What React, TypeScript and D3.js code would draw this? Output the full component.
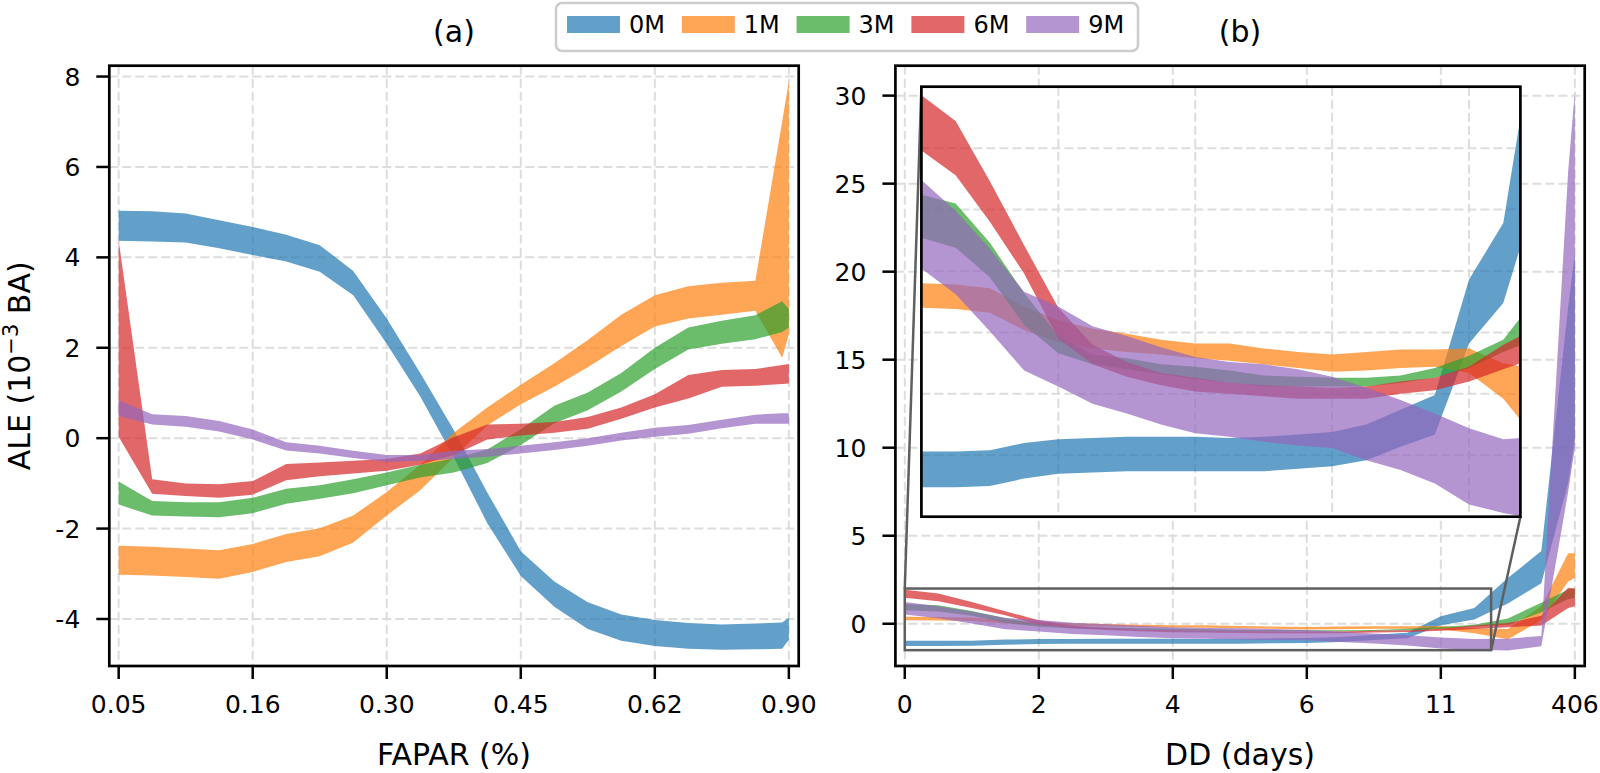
import * as d3 from "d3";

// x positions are bin positions on a 0..1 quantile axis (ticks every 0.2)
const xPos = [0, 0.05, 0.1, 0.15, 0.2, 0.25, 0.3, 0.35, 0.4, 0.45, 0.5, 0.55, 0.6, 0.65, 0.7, 0.75, 0.8, 0.85, 0.9, 0.95, 0.99, 1];
const xTickPos = [0, 0.2, 0.4, 0.6, 0.8, 1];
const faparTickLabels = ["0.05", "0.16", "0.30", "0.45", "0.62", "0.90"];
const ddTickLabels = ["0", "2", "4", "6", "11", "406"];
const yTicksA = [-4, -2, 0, 2, 4, 6, 8];
const yTicksB = [0, 5, 10, 15, 20, 25, 30];
const insetGridX = [0.2, 0.4, 0.6, 0.8];
const insetGridY = [-1, -0.5, 0, 0.5, 1, 1.5];

const seriesNames = ["0M", "1M", "3M", "6M", "9M"];
const colors = ["#1f77b4", "#ff7f0e", "#2ca02c", "#d62728", "#9467bd"];

// (a) FAPAR
const fapar0mHigh = [5.03, 5.02, 4.97, 4.82, 4.67, 4.5, 4.27, 3.7, 2.65, 1.44, 0.18, -1.2, -2.5, -3.17, -3.63, -3.9, -4.02, -4.09, -4.12, -4.1, -4.08, -3.97];
const fapar0mLow = [4.37, 4.35, 4.33, 4.2, 4.05, 3.91, 3.68, 3.16, 2.09, 0.92, -0.42, -1.88, -3.05, -3.73, -4.22, -4.48, -4.6, -4.66, -4.68, -4.67, -4.66, -4.46];
const fapar1mHigh = [-2.38, -2.4, -2.44, -2.48, -2.34, -2.12, -1.99, -1.71, -1.19, -0.59, 0.12, 0.68, 1.18, 1.66, 2.17, 2.73, 3.16, 3.36, 3.44, 3.48, 7.0, 7.9];
const fapar1mLow = [-3.02, -3.04, -3.07, -3.11, -2.96, -2.74, -2.61, -2.31, -1.71, -1.15, -0.42, 0.28, 0.75, 1.14, 1.57, 2.04, 2.47, 2.65, 2.73, 2.82, 1.78, 2.3];
const fapar3mHigh = [-0.96, -1.39, -1.42, -1.42, -1.32, -1.12, -1.04, -0.91, -0.76, -0.59, -0.45, -0.25, 0.2, 0.72, 1.01, 1.44, 2.0, 2.45, 2.6, 2.72, 3.03, 2.86];
const fapar3mLow = [-1.47, -1.71, -1.73, -1.75, -1.66, -1.45, -1.34, -1.22, -1.04, -0.87, -0.76, -0.55, -0.15, 0.33, 0.62, 1.03, 1.53, 1.96, 2.09, 2.19, 2.35, 2.45];
const fapar6mHigh = [4.37, -0.91, -1.0, -1.02, -0.95, -0.57, -0.54, -0.5, -0.46, -0.34, 0.02, 0.3, 0.32, 0.36, 0.47, 0.68, 0.97, 1.4, 1.51, 1.53, 1.62, 1.64];
const fapar6mLow = [0.03, -1.23, -1.28, -1.32, -1.25, -0.93, -0.84, -0.78, -0.72, -0.59, -0.37, -0.03, 0.06, 0.12, 0.21, 0.43, 0.68, 0.88, 1.14, 1.16, 1.2, 1.21];
const fapar9mHigh = [0.84, 0.53, 0.49, 0.38, 0.19, -0.09, -0.17, -0.28, -0.37, -0.37, -0.28, -0.24, -0.17, -0.09, 0.0, 0.12, 0.23, 0.29, 0.41, 0.52, 0.55, 0.55];
const fapar9mLow = [0.49, 0.3, 0.25, 0.15, -0.03, -0.27, -0.34, -0.44, -0.52, -0.5, -0.46, -0.41, -0.34, -0.26, -0.17, -0.05, 0.03, 0.1, 0.22, 0.32, 0.32, 0.32];

// (b) DD
const dd0mHigh = [-0.97, -0.97, -0.96, -0.9, -0.87, -0.86, -0.85, -0.85, -0.85, -0.86, -0.85, -0.83, -0.81, -0.75, -0.63, -0.51, 0.43, 0.89, 2.6, 4.13, 18.0, 21.0];
const dd0mLow = [-1.26, -1.26, -1.25, -1.19, -1.15, -1.14, -1.13, -1.13, -1.13, -1.13, -1.13, -1.11, -1.09, -1.04, -0.93, -0.83, -0.09, 0.24, 1.15, 2.3, 8.0, 10.5];
const dd1mHigh = [0.4, 0.39, 0.36, 0.21, 0.1, 0.03, -0.01, -0.06, -0.09, -0.09, -0.13, -0.16, -0.18, -0.16, -0.14, -0.14, -0.13, -0.25, -0.3, 1.0, 4.0, 4.0];
const dd1mLow = [0.2, 0.19, 0.16, 0.02, -0.08, -0.13, -0.16, -0.18, -0.21, -0.23, -0.26, -0.29, -0.32, -0.31, -0.29, -0.28, -0.33, -0.54, -0.88, 0.2, 2.4, 2.6];
const dd3mHigh = [1.12, 1.05, 0.73, 0.32, -0.03, -0.18, -0.21, -0.26, -0.28, -0.31, -0.35, -0.36, -0.37, -0.37, -0.35, -0.29, -0.19, -0.06, 0.3, 1.2, 1.95, 2.0];
const dd3mLow = [0.77, 0.69, 0.45, 0.06, -0.17, -0.26, -0.3, -0.34, -0.38, -0.41, -0.44, -0.44, -0.44, -0.44, -0.41, -0.37, -0.29, -0.16, -0.05, 0.65, 1.4, 1.45];
const dd6mHigh = [1.93, 1.72, 1.23, 0.71, 0.2, -0.1, -0.24, -0.33, -0.37, -0.41, -0.43, -0.44, -0.45, -0.44, -0.4, -0.37, -0.28, -0.1, 0.04, 0.45, 2.05, 2.0];
const dd6mLow = [1.48, 1.28, 0.9, 0.48, -0.05, -0.26, -0.36, -0.43, -0.48, -0.5, -0.52, -0.54, -0.54, -0.54, -0.5, -0.47, -0.4, -0.3, -0.2, -0.1, 0.9, 1.0];
const dd9mHigh = [1.24, 0.99, 0.68, 0.33, 0.21, 0.05, -0.03, -0.12, -0.2, -0.24, -0.26, -0.3, -0.36, -0.45, -0.55, -0.66, -0.78, -0.87, -0.85, -0.69, 25.7, 30.2];
const dd9mLow = [0.52, 0.31, 0.01, -0.31, -0.44, -0.58, -0.66, -0.75, -0.82, -0.85, -0.89, -0.92, -0.94, -1.04, -1.12, -1.23, -1.4, -1.47, -1.52, -1.28, 7.5, 10.0];

const faparBands = [
  [fapar0mLow, fapar0mHigh],
  [fapar1mLow, fapar1mHigh],
  [fapar3mLow, fapar3mHigh],
  [fapar6mLow, fapar6mHigh],
  [fapar9mLow, fapar9mHigh],
];
const ddBands = [
  [dd0mLow, dd0mHigh],
  [dd1mLow, dd1mHigh],
  [dd3mLow, dd3mHigh],
  [dd6mLow, dd6mHigh],
  [dd9mLow, dd9mHigh],
];

const FONT = "'DejaVu Sans', sans-serif";
const GRID = "#dddddd";
const TOP = 65.7;
const BOTTOM = 666;
const A_LEFT = 109.3;
const A_RIGHT = 798.7;
const B_LEFT = 895.4;
const B_RIGHT = 1584.7;
const INSET = { left: 921.4, right: 1520.4, top: 86.7, bottom: 516.7 };
const INSET_X: [number, number] = [0, 0.875];
const INSET_Y: [number, number] = [-1.5, 2];

const xA = d3.scaleLinear().domain([-0.014, 1.0147]).range([A_LEFT, A_RIGHT]);
const xB = d3.scaleLinear().domain([-0.014, 1.0147]).range([B_LEFT, B_RIGHT]);
const yA = d3.scaleLinear().domain([-5.04, 8.24]).range([BOTTOM, TOP]);
const yB = d3.scaleLinear().domain([-2.4, 31.7]).range([BOTTOM, TOP]);
const xIn = d3.scaleLinear().domain(INSET_X).range([INSET.left, INSET.right]);
const yIn = d3.scaleLinear().domain(INSET_Y).range([INSET.bottom, INSET.top]);

type Scale = d3.ScaleLinear<number, number>;

function Bands({ bands, x, y }: { bands: number[][][]; x: Scale; y: Scale }) {
  return (
    <g>
      {bands.map(([low, high], k) => {
        const area = d3
          .area<number>()
          .x((_, i) => x(xPos[i]))
          .y0((_, i) => y(low[i]))
          .y1((_, i) => y(high[i]));
        return <path key={k} d={area(xPos) ?? ""} fill={colors[k]} fillOpacity={0.7} stroke="none" />;
      })}
    </g>
  );
}

function Panel({
  id,
  left,
  right,
  x,
  y,
  yTicks,
  xLabels,
  xTitle,
  title,
  bands,
}: {
  id: string;
  left: number;
  right: number;
  x: Scale;
  y: Scale;
  yTicks: number[];
  xLabels: string[];
  xTitle: string;
  title: string;
  bands: number[][][];
}) {
  const cx = (left + right) / 2;
  return (
    <g>
      <defs>
        <clipPath id={`clip-${id}`}>
          <rect x={left} y={TOP} width={right - left} height={BOTTOM - TOP} />
        </clipPath>
      </defs>
      {xTickPos.map((t) => (
        <line key={`gx${t}`} x1={x(t)} x2={x(t)} y1={TOP} y2={BOTTOM} stroke={GRID} strokeWidth={2} strokeDasharray="9,4" />
      ))}
      {yTicks.map((t) => (
        <line key={`gy${t}`} x1={left} x2={right} y1={y(t)} y2={y(t)} stroke={GRID} strokeWidth={2} strokeDasharray="9,4" />
      ))}
      <g clipPath={`url(#clip-${id})`}>
        <Bands bands={bands} x={x} y={y} />
      </g>
      <rect x={left} y={TOP} width={right - left} height={BOTTOM - TOP} fill="none" stroke="#000" strokeWidth={2.7} />
      {xTickPos.map((t, i) => (
        <g key={`tx${t}`}>
          <line x1={x(t)} x2={x(t)} y1={BOTTOM} y2={BOTTOM + 13} stroke="#000" strokeWidth={2.5} />
          <text x={x(t)} y={713} textAnchor="middle" fontSize={25} fontFamily={FONT}>
            {xLabels[i]}
          </text>
        </g>
      ))}
      {yTicks.map((t) => (
        <g key={`ty${t}`}>
          <line x1={left - 13} x2={left} y1={y(t)} y2={y(t)} stroke="#000" strokeWidth={2.5} />
          <text x={left - 29} y={y(t)} dy="0.36em" textAnchor="end" fontSize={25} fontFamily={FONT}>
            {t}
          </text>
        </g>
      ))}
      <text x={cx} y={765} textAnchor="middle" fontSize={30} fontFamily={FONT}>
        {xTitle}
      </text>
      <text x={cx} y={42} textAnchor="middle" fontSize={30} fontFamily={FONT}>
        {title}
      </text>
    </g>
  );
}

function Inset() {
  const { left, right, top, bottom } = INSET;
  const rx0 = xB(INSET_X[0]);
  const rx1 = xB(INSET_X[1]);
  const ry0 = yB(INSET_Y[1]);
  const ry1 = yB(INSET_Y[0]);
  return (
    <g>
      <defs>
        <clipPath id="clip-inset">
          <rect x={left} y={top} width={right - left} height={bottom - top} />
        </clipPath>
      </defs>
      {/* zoom indicator on the main axes */}
      <rect x={rx0} y={ry0} width={rx1 - rx0} height={ry1 - ry0} fill="none" stroke="#5f5f5f" strokeWidth={2.5} />
      <line x1={rx0} y1={ry0} x2={left} y2={top} stroke="#5f5f5f" strokeWidth={2.5} />
      <line x1={rx1} y1={ry1} x2={right} y2={bottom} stroke="#5f5f5f" strokeWidth={2.5} />
      <rect x={left} y={top} width={right - left} height={bottom - top} fill="#fff" />
      {insetGridX.map((t) => (
        <line key={`ix${t}`} x1={xIn(t)} x2={xIn(t)} y1={top} y2={bottom} stroke={GRID} strokeWidth={2} strokeDasharray="9,4" />
      ))}
      {insetGridY.map((t) => (
        <line key={`iy${t}`} x1={left} x2={right} y1={yIn(t)} y2={yIn(t)} stroke={GRID} strokeWidth={2} strokeDasharray="9,4" />
      ))}
      <g clipPath="url(#clip-inset)">
        <Bands bands={ddBands} x={xIn} y={yIn} />
      </g>
      <rect x={left} y={top} width={right - left} height={bottom - top} fill="none" stroke="#000" strokeWidth={2.7} />
    </g>
  );
}

function Legend() {
  const x0 = 556;
  const step = 114.8;
  return (
    <g fontFamily={FONT} fontSize={24}>
      <rect x={x0} y={3} width={582} height={48} rx={6} fill="#fff" fillOpacity={0.8} stroke="#cccccc" strokeWidth={2.5} />
      {seriesNames.map((name, i) => (
        <g key={name} transform={`translate(${x0 + 11 + i * step},0)`}>
          <rect x={0} y={16} width={53} height={17} fill={colors[i]} fillOpacity={0.7} />
          <text x={62} y={33.3}>
            {name}
          </text>
        </g>
      ))}
    </g>
  );
}

export default function App() {
  return (
    <svg
      width={1600}
      height={773}
      viewBox="0 0 1600 773"
      style={{ position: "absolute", left: 0, top: 0, background: "#fff" }}
    >
      <rect width={1600} height={773} fill="#fff" />
      <Panel
        id="a"
        left={A_LEFT}
        right={A_RIGHT}
        x={xA}
        y={yA}
        yTicks={yTicksA}
        xLabels={faparTickLabels}
        xTitle="FAPAR (%)"
        title="(a)"
        bands={faparBands}
      />
      <Panel
        id="b"
        left={B_LEFT}
        right={B_RIGHT}
        x={xB}
        y={yB}
        yTicks={yTicksB}
        xLabels={ddTickLabels}
        xTitle="DD (days)"
        title="(b)"
        bands={ddBands}
      />
      <Inset />
      <text
        transform={`translate(30,${(TOP + BOTTOM) / 2}) rotate(-90)`}
        textAnchor="middle"
        fontSize={30}
        fontFamily={FONT}
      >
        ALE (10
        <tspan fontSize={21} dy={-12}>
          −3
        </tspan>
        <tspan dy={12}> BA)</tspan>
      </text>
      <Legend />
    </svg>
  );
}
